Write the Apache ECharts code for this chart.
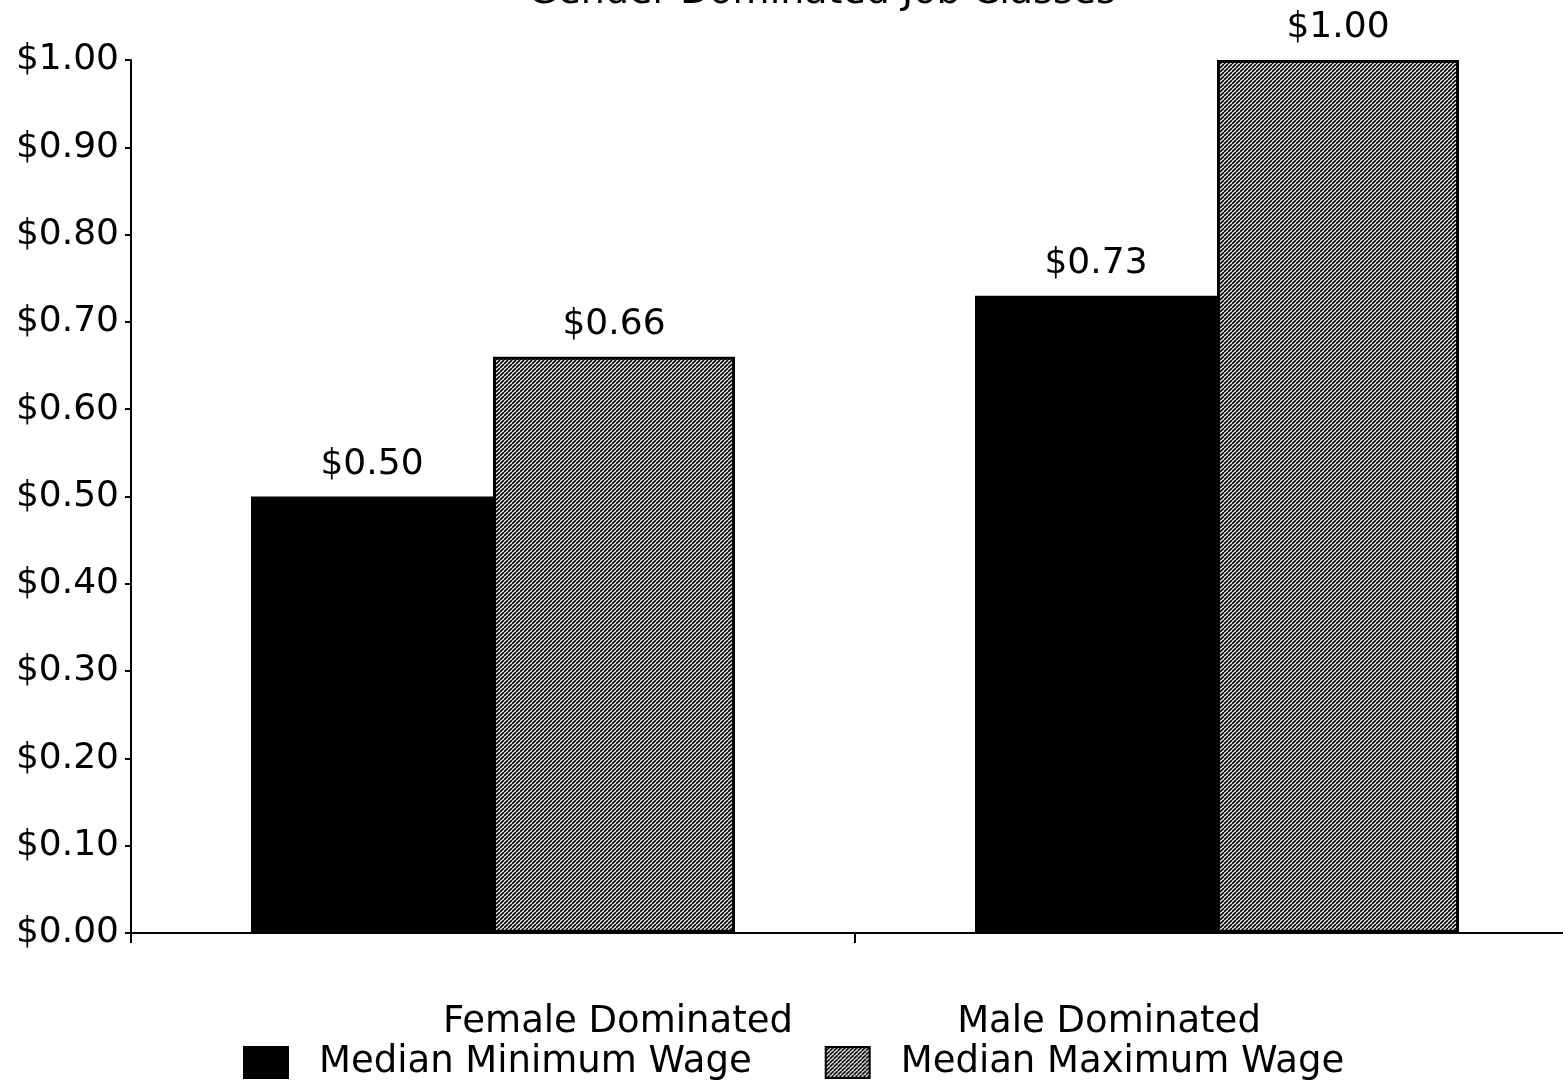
<!DOCTYPE html>
<html>
<head>
<meta charset="utf-8">
<script src="https://cdn.jsdelivr.net/npm/echarts@6/dist/echarts.min.js"></script>
<style>
html,body{margin:0;padding:0;background:#fff;}
#chart{width:1563px;height:1088px;}
</style>
</head>
<body>
<div id="chart"></div>
<script>
const titleText = 'Gender Dominated Job Classes';
const categories = ['Female Dominated', 'Male Dominated'];
const seriesNames = ['Median Minimum Wage', 'Median Maximum Wage'];
const minWage = [0.50, 0.73];
const maxWage = [0.66, 1.00];
const yMin = 0, yMax = 1.0, yInterval = 0.1;

const FONT = 'DejaVu Sans';

function makeHatch() {
  const s = 4;
  const c = document.createElement('canvas');
  c.width = s; c.height = s;
  const g = c.getContext('2d');
  g.fillStyle = '#ffffff';
  g.fillRect(0, 0, s, s);
  g.strokeStyle = '#000000';
  g.lineWidth = 1.7;
  for (const k of [-s, 0, s]) {
    g.beginPath();
    g.moveTo(k, s);
    g.lineTo(k + s, 0);
    g.stroke();
  }
  return c;
}
const hatch = { image: makeHatch(), repeat: 'repeat' };

const chart = echarts.init(document.getElementById('chart'));
const money = v => '$' + Number(v).toFixed(2);

chart.setOption({
  animation: false,
  backgroundColor: '#ffffff',
  title: {
    text: titleText,
    left: 528,
    top: -26,
    padding: 0,
    textStyle: { fontFamily: FONT, fontSize: 38, fontWeight: 'normal', color: '#000' }
  },
  legend: {
    left: 243,
    top: 1044,
    padding: 0,
    itemWidth: 44,
    itemHeight: 31,
    itemGap: 73,
    icon: 'rect',
    textStyle: { fontFamily: FONT, fontSize: 37, color: '#000', padding: [0, 0, 0, 26] },
    data: seriesNames
  },
  grid: { left: 131, width: 1448, top: 60, bottom: 155, containLabel: false, outerBoundsMode: 'none' },
  xAxis: {
    type: 'category',
    data: categories,
    axisLine: { lineStyle: { color: '#000', width: 2 } },
    axisTick: { show: true, length: 10, lineStyle: { color: '#000', width: 2 } },
    axisLabel: {
      margin: 71,
      color: '#000',
      fontFamily: FONT,
      fontSize: 37,
      formatter: (v, i) => i === 0 ? '{a|' + v + '}' : '{b|' + v + '}',
      rich: {
        a: { fontFamily: FONT, fontSize: 37, color: '#000', padding: [0, 0, 0, 250] },
        b: { fontFamily: FONT, fontSize: 37, color: '#000', padding: [0, 216, 0, 0] }
      }
    }
  },
  yAxis: {
    type: 'value',
    min: yMin,
    max: yMax,
    interval: yInterval,
    splitLine: { show: false },
    axisLine: { show: true, lineStyle: { color: '#000', width: 2 } },
    axisTick: { show: true, length: 6, lineStyle: { color: '#000', width: 2 } },
    axisLabel: {
      margin: 12,
      color: '#000',
      fontFamily: FONT,
      fontSize: 36,
      formatter: v => money(v)
    }
  },
  series: [
    {
      name: seriesNames[0],
      type: 'bar',
      data: minWage,
      barWidth: 242,
      barGap: '0%',
      itemStyle: { color: '#000000', borderColor: '#000', borderWidth: 2 },
      label: {
        show: true, position: 'top', distance: 14,
        color: '#000', fontFamily: FONT, fontSize: 36,
        formatter: p => money(p.value)
      }
    },
    {
      name: seriesNames[1],
      type: 'bar',
      data: maxWage,
      barWidth: 242,
      barGap: '0%',
      itemStyle: { color: hatch, borderColor: '#000', borderWidth: 3 },
      label: {
        show: true, position: 'top', distance: 14,
        color: '#000', fontFamily: FONT, fontSize: 36,
        formatter: p => money(p.value)
      }
    }
  ]
});
</script>
</body>
</html>
